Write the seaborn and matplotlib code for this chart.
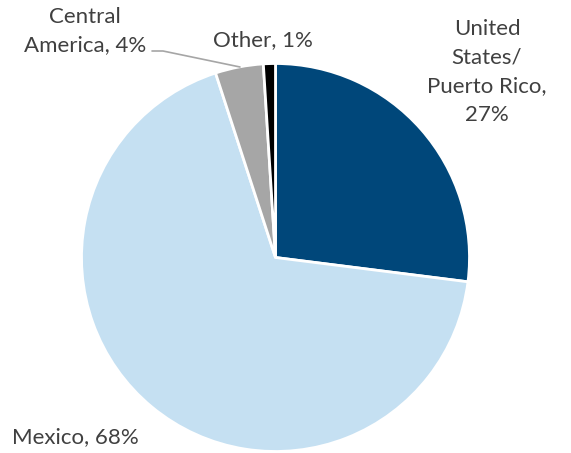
import matplotlib
matplotlib.use("Agg")
import matplotlib.pyplot as plt
import seaborn as sns

# Share of people by origin
regions = ["United States/\nPuerto Rico", "Mexico", "Central\nAmerica", "Other"]
shares = [27, 68, 4, 1]
slice_colors = ["#00477A", "#C5E0F2", "#A6A6A6", "#000000"]

sns.set_theme(style="white")
plt.rcParams["font.family"] = ["Lato", "DejaVu Sans"]

W, H = 571, 453
fig = plt.figure(figsize=(W / 100, H / 100), dpi=100)
ax = fig.add_axes([0, 0, 1, 1])

# pie in pixel coordinates (y measured from the bottom)
cx, cy, r = 275.5, H - 257.5, 194
ax.pie(shares, colors=slice_colors, startangle=90, counterclock=False,
       center=(cx, cy), radius=r, frame=True,
       wedgeprops=dict(edgecolor="white", linewidth=2))
ax.set_xlim(0, W)
ax.set_ylim(0, H)
ax.set_aspect("equal")
ax.axis("off")

txt = dict(color="#404040", fontsize=16, linespacing=1.55)
ax.text(487, H - 72, "United\nStates/\nPuerto Rico,\n27%", ha="center", va="center", **txt)
ax.text(263, H - 40, "Other, 1%", ha="center", va="center", **txt)
ax.text(85, H - 31, "Central\nAmerica, 4%", ha="center", va="center", **txt)
ax.text(12, H - 437, "Mexico, 68%", ha="left", va="center", **txt)

# leader line for Central America
ax.plot([152, 163, 240], [H - 51, H - 51, H - 67], color="#A6A6A6", linewidth=1.2)

fig.savefig("out.png", dpi=100)
